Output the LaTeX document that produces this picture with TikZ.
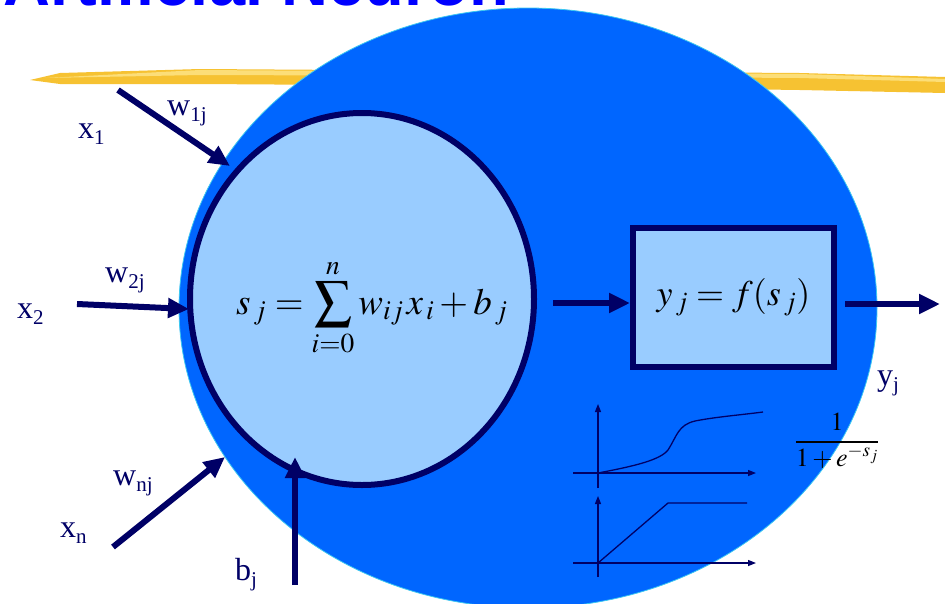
\documentclass[tikz,border=0pt]{standalone}
\usepackage{mathptmx}
\usepackage{fontspec}
\setmainfont{Liberation Serif}
\newfontfamily\labfont{Liberation Serif}
\newfontfamily\titlefont{Liberation Sans}
\usetikzlibrary{shapes.geometric,arrows.meta}
\definecolor{outerblue}{RGB}{0,102,255}
\definecolor{edgecyan}{RGB}{60,200,240}
\definecolor{cellblue}{RGB}{153,204,255}
\definecolor{navy}{RGB}{0,0,102}
\definecolor{titleblue}{RGB}{0,0,255}
\definecolor{brush}{RGB}{246,194,50}
\definecolor{brushlight}{RGB}{252,222,120}
\newcommand\lsub[1]{\raisebox{-6pt}{\fontsize{21}{21}\selectfont #1}}
\tikzset{
  arr/.style={line width=6pt, navy, -{Triangle[length=21pt,width=19pt]}},
  axis/.style={line width=1.3pt, navy, -{Triangle[length=8pt,width=6pt]}},
  curve/.style={line width=1.3pt, navy},
  lab/.style={anchor=base west, inner sep=0pt, text=navy, font=\labfont\fontsize{32}{32}\selectfont},
}
\begin{document}
\begin{tikzpicture}[x=1pt,y=-1pt]
\useasboundingbox (0,0) rectangle (945,603);
\clip (0,0) rectangle (945,603);
% title (cut off at the top)
\node[anchor=base west, inner sep=0pt, text=titleblue, font=\titlefont\bfseries\fontsize{65}{65}\selectfont] (title) at (3,5) {Artificial Neuron};
% yellow brush stroke
\fill[brush] (30,80) -- (60,73) -- (200,69) -- (500,71) -- (800,73) -- (945,77) -- (945,93) -- (800,90) -- (500,86) -- (200,84) -- (60,84) -- cycle;
\fill[brushlight] (45,78) -- (200,70) -- (500,72) -- (800,74) -- (945,79) -- (945,82) -- (800,78) -- (500,76) -- (200,75) -- cycle;
% outer neuron body
\fill[outerblue, draw=edgecyan, line width=0.8pt] (528,308) ellipse [x radius=349pt, y radius=300pt];
% inner summation cell
\node[ellipse, draw=navy, fill=cellblue, line width=6pt, minimum width=344pt, minimum height=372pt, inner sep=0pt] (cell) at (362,299) {};
\node[anchor=base west, inner sep=0pt, font=\fontsize{37}{37}\selectfont] (sum) at (236,314) {$\displaystyle s_{\,j} = \sum_{i=0}^{n} w_{ij\,}x_{\,i} + b_{\,j}$};
% activation box
\node[draw=navy, fill=cellblue, line width=6pt, minimum width=201pt, minimum height=139pt, inner sep=0pt, font=\fontsize{36}{36}\selectfont] (act) at (733.5,297.5) {$y_{\,j} = f(s_{\,j})$};
% inputs
\coordinate (x1s) at (118,90);  \coordinate (x1e) at (230,166);
\coordinate (x2s) at (77,304);  \coordinate (x2e) at (189,309);
\coordinate (xns) at (113,547); \coordinate (xne) at (225,457);
\coordinate (bjs) at (295,585); \coordinate (bje) at (295,457);
\draw[arr] (x1s) -- (x1e);
\draw[arr] (x2s) -- (x2e);
\draw[arr] (xns) -- (xne);
\draw[arr] (bjs) -- (bje);
\node[lab] (x1) at (78,138) {x\lsub{1}};
\node[lab] (w1) at (167,115) {w\lsub{1j}};
\node[lab] (w2) at (105,282) {w\lsub{2j}};
\node[lab] (x2) at (17,318) {x\lsub{2}};
\node[lab] (wn) at (113,485) {w\lsub{nj}};
\node[lab] (xn) at (60,537) {x\lsub{n}};
\node[lab] (bj) at (235,580) {b\lsub{j}};
% sum -> activation -> output
\coordinate (s1) at (553,303);
\draw[arr] (s1) -- (s1 -| act.west);
\coordinate (o1) at (845,304); \coordinate (o2) at (940,304);
\draw[arr] (o1) -- (o2);
\node[lab] (yj) at (877,385) {y\lsub{j}};
% sigmoid formula
\node[inner sep=0pt, font=\fontsize{26}{26}\selectfont] (sig) at (837,441) {$\displaystyle \frac{1}{1+e^{-s_j}}$};
% sigmoid graph
\draw[axis] (598,488) -- (598,404);
\draw[axis] (573,473) -- (756,473);
\draw[curve] (598,473) .. controls (635,466) and (660,460) .. (668,450) .. controls (677,436) and (678,425) .. (695,421) .. controls (715,417) and (740,415) .. (763,412);
% ramp graph
\draw[axis] (598,577) -- (598,496);
\draw[axis] (573,563) -- (756,563);
\draw[curve] (598,563) -- (668,503) -- (747,503);
\end{tikzpicture}
\end{document}
